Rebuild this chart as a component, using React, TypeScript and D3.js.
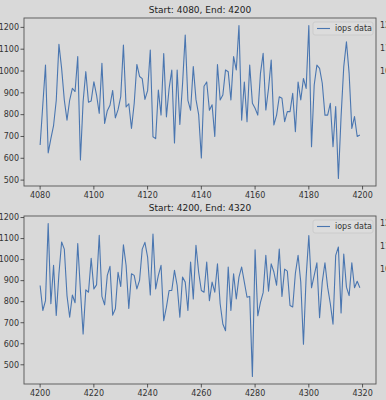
import React, { useRef, useEffect } from 'react';
import * as d3 from 'd3';

// top window: 4080 .. 4199
const topStart = 4080;
const topValues = [
  661, 845, 1027, 625, 690, 750, 865, 1122, 1012, 867,
  775, 867, 921, 906, 1066, 592, 860, 997, 857, 863,
  951, 890, 806, 1035, 760, 818, 843, 911, 785, 823,
  883, 1119, 835, 850, 737, 850, 1030, 975, 965, 870,
  910, 1096, 699, 690, 913, 798, 1080, 790, 920, 1004,
  670, 1004, 755, 940, 1165, 865, 820, 1020, 870, 800,
  601, 930, 950, 820, 845, 700, 1030, 867, 890, 1005,
  997, 867, 1066, 1005, 1208, 775, 950, 768, 1027, 852,
  829, 798, 989, 1081, 821, 920, 1050, 753, 798, 882,
  875, 768, 814, 814, 898, 722, 950, 867, 966, 920,
  1208, 653, 936, 1027, 1012, 944, 798, 798, 852, 653,
  837, 508, 791, 1020, 1134, 989, 737, 791, 700, 707,
];

// bottom window: 4200 .. 4319
const bottomStart = 4200;
const bottomValues = [
  877, 758, 805, 1171, 790, 973, 734, 933, 1084, 1050,
  829, 726, 832, 795, 1076, 853, 646, 856, 845, 1006,
  861, 880, 1116, 825, 785, 925, 968, 736, 766, 940,
  872, 1070, 972, 768, 933, 925, 861, 901, 1050, 1082,
  1012, 832, 1122, 861, 925, 973, 710, 774, 853, 853,
  949, 877, 726, 917, 893, 758, 988, 813, 1068, 940,
  853, 845, 988, 805, 893, 845, 980, 790, 694, 662,
  965, 758, 933, 813, 917, 965, 893, 821, 825, 445,
  1047, 733, 797, 843, 1020, 850, 980, 941, 878, 1050,
  825, 955, 945, 782, 775, 935, 1020, 893, 598, 917,
  1114, 866, 925, 985, 724, 893, 985, 869, 790, 693,
  1020, 1060, 746, 1027, 869, 829, 985, 866, 897, 866,
];

const yTicks = [500, 600, 700, 800, 900, 1000, 1100, 1200];
const legendLabel = 'iops data';
// labels of the neighbouring subplot, cut off at the right edge
const sideLabels = ['1200', '1100', '1000'];

const W = 386;
const H = 400;
const bg = '#d9d9d9';
const lineColor = '#4a76b0';
const ink = '#333333';
const font = 'DejaVu Sans, sans-serif';

const drawPanel = (svg, start, values, top) => {
  const left = 24;
  const right = 376;
  const bottom = top + 168;
  const g = svg.append('g');
  const data = values.map((v, i) => ({ x: start + i, y: v }));

  const ext = d3.extent(values);
  const pad = (ext[1] - ext[0]) * 0.05;
  const y = d3.scaleLinear().domain([ext[0] - pad, ext[1] + pad]).range([bottom, top]);
  const x = d3.scaleLinear().domain([start - 6, start + 125]).range([left, right]);

  g.append('rect')
    .attr('x', left)
    .attr('y', top)
    .attr('width', right - left)
    .attr('height', bottom - top)
    .attr('fill', bg)
    .attr('stroke', '#555')
    .attr('stroke-width', 0.9);

  const line = d3.line().x(d => x(d.x)).y(d => y(d.y));
  g.append('path')
    .datum(data)
    .attr('d', line)
    .attr('fill', 'none')
    .attr('stroke', lineColor)
    .attr('stroke-width', 1.1)
    .attr('stroke-linejoin', 'round');

  // y axis
  yTicks.forEach(t => {
    g.append('line')
      .attr('x1', left - 3.5).attr('x2', left)
      .attr('y1', y(t)).attr('y2', y(t))
      .attr('stroke', ink).attr('stroke-width', 0.8);
    g.append('text')
      .text(t)
      .attr('x', left - 5)
      .attr('y', y(t))
      .attr('dy', '0.35em')
      .attr('text-anchor', 'end')
      .style('font-size', '8px')
      .style('font-family', font)
      .style('fill', ink);
  });

  // x axis
  const xTicks = d3.range(start, start + 121, 20);
  xTicks.forEach(t => {
    g.append('line')
      .attr('x1', x(t)).attr('x2', x(t))
      .attr('y1', bottom).attr('y2', bottom + 3.5)
      .attr('stroke', ink).attr('stroke-width', 0.8);
    g.append('text')
      .text(t)
      .attr('x', x(t))
      .attr('y', bottom + 12)
      .attr('text-anchor', 'middle')
      .style('font-size', '8px')
      .style('font-family', font)
      .style('fill', ink);
  });

  // title
  g.append('text')
    .text(`Start: ${start}, End: ${start + 120}`)
    .attr('x', (left + right) / 2)
    .attr('y', top - 5)
    .attr('text-anchor', 'middle')
    .style('font-size', '9px')
    .style('font-family', font)
    .style('fill', '#222');

  // legend
  const lx = right - 63;
  const ly = top + 4;
  g.append('rect')
    .attr('x', lx).attr('y', ly)
    .attr('width', 60).attr('height', 13)
    .attr('rx', 2)
    .attr('fill', '#dcdcdc')
    .attr('stroke', '#c8c8c8')
    .attr('stroke-width', 0.8);
  g.append('line')
    .attr('x1', lx + 4).attr('x2', lx + 17)
    .attr('y1', ly + 6.5).attr('y2', ly + 6.5)
    .attr('stroke', lineColor).attr('stroke-width', 1.1);
  g.append('text')
    .text(legendLabel)
    .attr('x', lx + 22)
    .attr('y', ly + 6.5)
    .attr('dy', '0.35em')
    .style('font-size', '8px')
    .style('font-family', font)
    .style('fill', ink);

  // neighbour ticks
  sideLabels.forEach((s, i) => {
    g.append('text')
      .text(s)
      .attr('x', 380)
      .attr('y', top + 7 + i * 23)
      .attr('dy', '0.35em')
      .style('font-size', '8px')
      .style('font-family', font)
      .style('fill', ink);
  });
};

const App = () => {
  const svgRef = useRef(null);

  useEffect(() => {
    const svg = d3.select(svgRef.current);
    svg.selectAll('*').remove();
    svg.append('rect').attr('width', W).attr('height', H).attr('fill', bg);
    drawPanel(svg, topStart, topValues, 18);
    drawPanel(svg, bottomStart, bottomValues, 216);
  }, []);

  return (
    <div style={{ position: 'absolute', left: 0, top: 0 }}>
      <svg ref={svgRef} width={W} height={H} style={{ display: 'block' }}></svg>
    </div>
  );
};

export default App;
